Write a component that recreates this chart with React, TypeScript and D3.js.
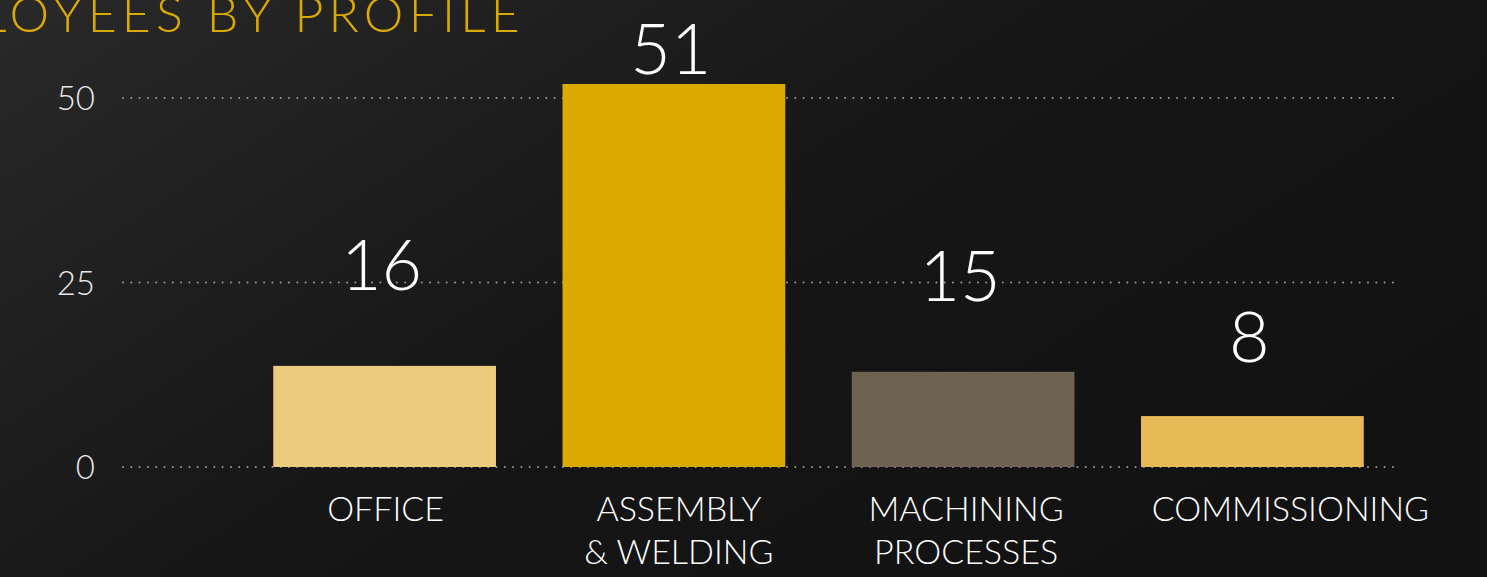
import React from 'react'
import * as d3 from 'd3'

// chart data
const categories = ['OFFICE', 'ASSEMBLY\n& WELDING', 'MACHINING\nPROCESSES', 'COMMISSIONING']
const barValues = [13.7, 51.9, 12.9, 6.9]
const valueLabels = ['16', '51', '15', '8']
// level (in axis units) where each value label sits
const labelLevels = [24, 53.3, 22.5, 14.2]
const yTicks = [0, 25, 50]
const barColors = ['#EBCB7F', '#DBAA00', '#6E6350', '#E6BB57']
const title = 'EMPLOYEES BY PROFILE'

const W = 1487
const H = 577
const FONT = "'Lato', 'Open Sans', sans-serif"

export default function App() {
  const x = d3
    .scaleBand()
    .domain(categories)
    .range([240, 1397])
    .paddingInner(0.23)
    .paddingOuter(0.115)

  const y = d3.scaleLinear().domain([0, 50]).range([467, 98])

  // small horizontal nudges for the category text, as in the slide
  const labelNudge = [1, 5, 3, 38]

  return (
    <svg
      width={W}
      height={H}
      style={{ position: 'fixed', left: 0, top: 0, display: 'block' }}
      fontFamily={FONT}
    >
      <defs>
        <linearGradient id="bg" x1="0" y1="0" x2="1" y2="0.6" gradientUnits="objectBoundingBox">
          <stop offset="0%" stopColor="#292929" />
          <stop offset="55%" stopColor="#161616" />
          <stop offset="100%" stopColor="#121212" />
        </linearGradient>
      </defs>
      <rect width={W} height={H} fill="url(#bg)" />

      {/* title, runs off the left edge like on the slide */}
      <text x={525} y={32} textAnchor="end" fill="#DBAA00" fontSize={50} fontWeight={300} letterSpacing={5.2}>
        {title}
      </text>

      {/* grid + y ticks */}
      {yTicks.map((t) => (
        <g key={t}>
          <line
            x1={123}
            x2={1398}
            y1={y(t)}
            y2={y(t)}
            stroke="#9a9a9a"
            strokeWidth={2}
            strokeLinecap="round"
            strokeDasharray="0 8.3"
          />
          <text x={95} y={y(t) + 12} textAnchor="end" fill="#e8e8e8" fontSize={33} fontWeight={300}>
            {t}
          </text>
        </g>
      ))}

      {/* bars */}
      {categories.map((c, i) => (
        <rect
          key={c}
          x={x(c)}
          y={y(barValues[i])}
          width={x.bandwidth()}
          height={y(0) - y(barValues[i])}
          fill={barColors[i]}
        />
      ))}

      {/* value labels */}
      {categories.map((c, i) => (
        <text
          key={c}
          x={(x(c) as number) + x.bandwidth() / 2 - 3}
          y={y(labelLevels[i])}
          textAnchor="middle"
          fill="#ffffff"
          fontSize={70}
          fontWeight={300}
        >
          {valueLabels[i]}
        </text>
      ))}

      {/* category labels */}
      {categories.map((c, i) => (
        <text
          key={c}
          x={(x(c) as number) + x.bandwidth() / 2 + labelNudge[i]}
          y={521}
          textAnchor="middle"
          fill="#ffffff"
          fontSize={34}
          fontWeight={300}
        >
          {c.split('\n').map((line, j) => (
            <tspan key={j} x={(x(c) as number) + x.bandwidth() / 2 + labelNudge[i]} dy={j === 0 ? 0 : 43}>
              {line}
            </tspan>
          ))}
        </text>
      ))}
    </svg>
  )
}
